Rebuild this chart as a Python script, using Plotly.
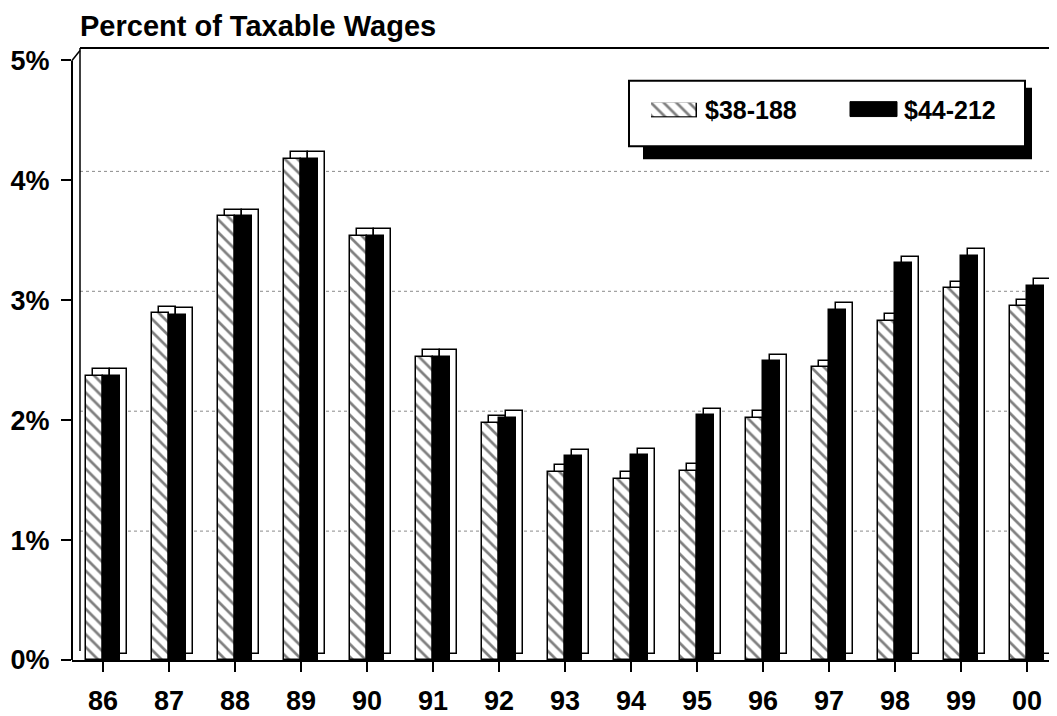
import plotly.graph_objects as go

# ---- data ----
years = ["86", "87", "88", "89", "90", "91", "92", "93", "94", "95", "96", "97", "98", "99", "00"]
low_base = [2.37, 2.89, 3.70, 4.18, 3.54, 2.53, 1.98, 1.57, 1.51, 1.58, 2.02, 2.44, 2.83, 3.10, 2.95]   # $38-188
high_base = [2.37, 2.88, 3.70, 4.18, 3.54, 2.53, 2.02, 1.70, 1.71, 2.04, 2.49, 2.92, 3.31, 3.37, 3.12]  # $44-212
series_names = ["$38-188", "$44-212"]
ytick_vals = [0, 1, 2, 3, 4, 5]
ytick_text = ["0%", "1%", "2%", "3%", "4%", "5%"]
title_text = "Percent of Taxable Wages"

# ---- layout geometry (page pixels; the html body adds an 8px margin) ----
OFF = 8
PAGE_W, PAGE_H = 1057, 716
W, H = PAGE_W - OFF, PAGE_H - OFF
plot_left, plot_top, plot_bottom, plot_right = 72, 48, 664, 1057   # page pixels
L = plot_left - OFF
T = plot_top - OFF
B = H - (plot_bottom - OFF)
R = W - (plot_right - OFF)
pw = W - L - R
ph = H - T - B
px_per_cat = 66.0
x0_px = 103
xr = [-(x0_px - plot_left) / px_per_cat, (plot_right - x0_px) / px_per_cat]
yr = [0, 5.104]
px_per_pct = ph / yr[1]

dx = 7 / px_per_cat
dy = 6.5 / px_per_pct
bw = 17 / px_per_cat
xpos = list(range(len(years)))

FONT = "Liberation Sans, Arial, Helvetica, sans-serif"

def px_x(p):
    return (p - plot_left) / pw

def px_y(p):
    return (plot_bottom - p) / ph

hatch = dict(shape="\\", size=9, solidity=0.3, fgcolor="black", bgcolor="white")

fig = go.Figure()

# hatched series: 3-D back box then front
fig.add_trace(go.Bar(x=xpos, y=low_base, base=[dy] * len(xpos), offset=-bw + dx, width=bw,
                     marker=dict(color="white", line=dict(color="black", width=1.5)),
                     showlegend=False, hoverinfo="skip"))
fig.add_trace(go.Bar(x=xpos, y=low_base, offset=-bw, width=bw, name=series_names[0],
                     marker=dict(color="white", line=dict(color="black", width=1.5), pattern=hatch),
                     showlegend=False))
# black series: 3-D back box then front
fig.add_trace(go.Bar(x=xpos, y=high_base, base=[dy] * len(xpos), offset=dx, width=bw,
                     marker=dict(color="white", line=dict(color="black", width=1.5)),
                     showlegend=False, hoverinfo="skip"))
fig.add_trace(go.Bar(x=xpos, y=high_base, offset=0, width=bw, name=series_names[1],
                     marker=dict(color="black", line=dict(color="black", width=1.5)),
                     showlegend=False))

# legend hatched swatch on its own small axes
fig.add_trace(go.Bar(x=[0], y=[1], width=1, xaxis="x2", yaxis="y2", showlegend=False,
                     hoverinfo="skip",
                     marker=dict(color="white", line=dict(color="black", width=1.5), pattern=hatch)))

shapes = []
# back-wall gridlines (dotted)
for v in ytick_vals[1:-1]:
    shapes.append(dict(type="line", xref="paper", yref="y", x0=px_x(80), x1=1,
                       y0=v + 0.075, y1=v + 0.075, layer="below",
                       line=dict(color="#8a8a8a", width=1, dash="dot")))
# back wall frame
shapes.append(dict(type="line", xref="paper", yref="paper", x0=px_x(80), x1=px_x(80),
                   y0=px_y(655), y1=1, line=dict(color="black", width=1.5), layer="below"))
shapes.append(dict(type="line", xref="paper", yref="paper", x0=px_x(80), x1=1,
                   y0=1, y1=1, line=dict(color="black", width=2), layer="below"))
shapes.append(dict(type="line", xref="paper", yref="y", x0=0, x1=px_x(80),
                   y0=ytick_vals[-1], y1=ytick_vals[-1] + 0.083,
                   line=dict(color="black", width=1.5), layer="below"))
# front y axis line
shapes.append(dict(type="line", xref="paper", yref="y", x0=0, x1=0,
                   y0=ytick_vals[0], y1=ytick_vals[-1], line=dict(color="black", width=2)))
# legend shadow and box
shapes.append(dict(type="rect", xref="paper", yref="paper", x0=px_x(643), x1=px_x(1032),
                   y0=px_y(160), y1=px_y(88), fillcolor="black", line=dict(width=0), layer="below"))
shapes.append(dict(type="rect", xref="paper", yref="paper", x0=px_x(629), x1=px_x(1025),
                   y0=px_y(147), y1=px_y(81), fillcolor="white",
                   line=dict(color="black", width=2), layer="below"))
# legend black swatch
shapes.append(dict(type="rect", xref="paper", yref="paper", x0=px_x(850), x1=px_x(897),
                   y0=px_y(117), y1=px_y(102), fillcolor="black", line=dict(color="black", width=1)))

annotations = [
    dict(text=title_text, xref="paper", yref="paper", x=px_x(78), y=px_y(26),
         xanchor="left", yanchor="middle", showarrow=False,
         font=dict(family=FONT, size=29, color="black", weight="bold")),
    dict(text=series_names[0], xref="paper", yref="paper", x=px_x(703), y=px_y(110),
         xanchor="left", yanchor="middle", showarrow=False,
         font=dict(family=FONT, size=25, color="black", weight="bold")),
    dict(text=series_names[1], xref="paper", yref="paper", x=px_x(902), y=px_y(110),
         xanchor="left", yanchor="middle", showarrow=False,
         font=dict(family=FONT, size=25, color="black", weight="bold")),
]

fig.update_layout(
    width=W, height=H,
    margin=dict(l=L, r=R, t=T, b=B, pad=0),
    paper_bgcolor="white", plot_bgcolor="white",
    barmode="overlay", bargap=0,
    showlegend=False,
    shapes=shapes, annotations=annotations,
    xaxis=dict(range=xr, tickmode="array", tickvals=xpos, ticktext=years,
               showgrid=False, zeroline=False, showline=True, linecolor="black", linewidth=2,
               ticks="outside", ticklen=10, tickwidth=1.5, tickcolor="black",
               ticklabelstandoff=6,
               tickfont=dict(family=FONT, size=27, color="black", weight="bold")),
    yaxis=dict(range=yr, tickmode="array", tickvals=ytick_vals, ticktext=ytick_text,
               showgrid=False, zeroline=False, showline=False,
               ticks="outside", ticklen=10, tickwidth=1.5, tickcolor="black",
               ticklabelstandoff=6,
               tickfont=dict(family=FONT, size=27, color="black", weight="bold")),
    xaxis2=dict(domain=[px_x(651), px_x(697)], range=[-0.5, 0.5], anchor="y2",
                visible=False, fixedrange=True),
    yaxis2=dict(domain=[px_y(118), px_y(103)], range=[0, 1], anchor="x2",
                visible=False, fixedrange=True),
)

fig.write_html("out.html")
